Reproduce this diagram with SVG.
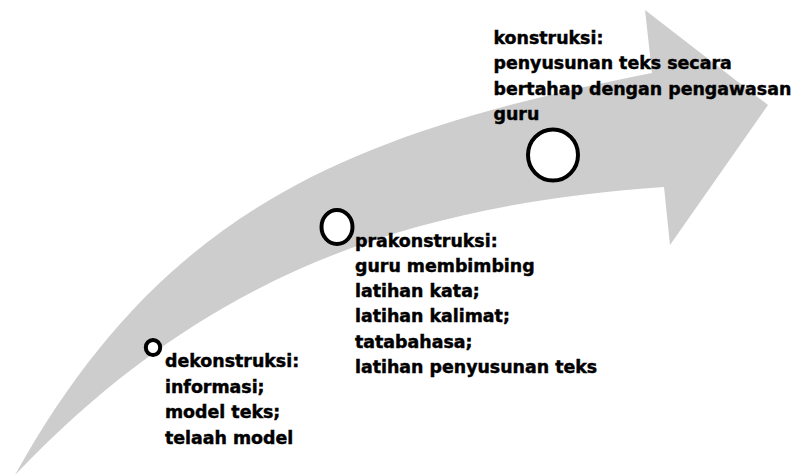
<svg xmlns="http://www.w3.org/2000/svg" width="795" height="475" viewBox="0 0 795 475">
  <style>
    .lbl { font-family: "DejaVu Sans", Verdana, sans-serif; font-weight: bold; font-size: 17.4px; fill: #000; stroke: #000; stroke-width: 0.45px; }
    .dot { fill: #fff; stroke: #000; stroke-width: 4; }
  </style>
  <rect width="795" height="475" fill="#fff"/>
  <g id="arrow">
    <path d="M15,475 C163,209 348,133 652,73 L645,10 L768,105 L670,245 L664,187 C413,205 210,270 15,475 Z" fill="#cdcdcd"/>
  </g>
  <g id="dekonstruksi">
    <ellipse class="dot" cx="153" cy="347.5" rx="7.2" ry="7.5" stroke-width="4.5"/>
    <text class="lbl" x="165" y="367">dekonstruksi:</text>
    <text class="lbl" x="165" y="392.5">informasi;</text>
    <text class="lbl" x="165" y="418">model teks;</text>
    <text class="lbl" x="165" y="443.5">telaah model</text>
  </g>
  <g id="prakonstruksi">
    <ellipse class="dot" cx="337" cy="227" rx="15.5" ry="17"/>
    <text class="lbl" x="355" y="246.5">prakonstruksi:</text>
    <text class="lbl" x="355" y="271.8">guru membimbing</text>
    <text class="lbl" x="355" y="297.1">latihan kata;</text>
    <text class="lbl" x="355" y="322.4">latihan kalimat;</text>
    <text class="lbl" x="355" y="347.7">tatabahasa;</text>
    <text class="lbl" x="355" y="373">latihan penyusunan teks</text>
  </g>
  <g id="konstruksi">
    <ellipse class="dot" cx="553" cy="155" rx="25" ry="25.5"/>
    <text class="lbl" x="493.5" y="43.5">konstruksi:</text>
    <text class="lbl" x="493.5" y="69">penyusunan teks secara</text>
    <text class="lbl" x="493.5" y="94.5">bertahap dengan pengawasan</text>
    <text class="lbl" x="493.5" y="120">guru</text>
  </g>
</svg>
